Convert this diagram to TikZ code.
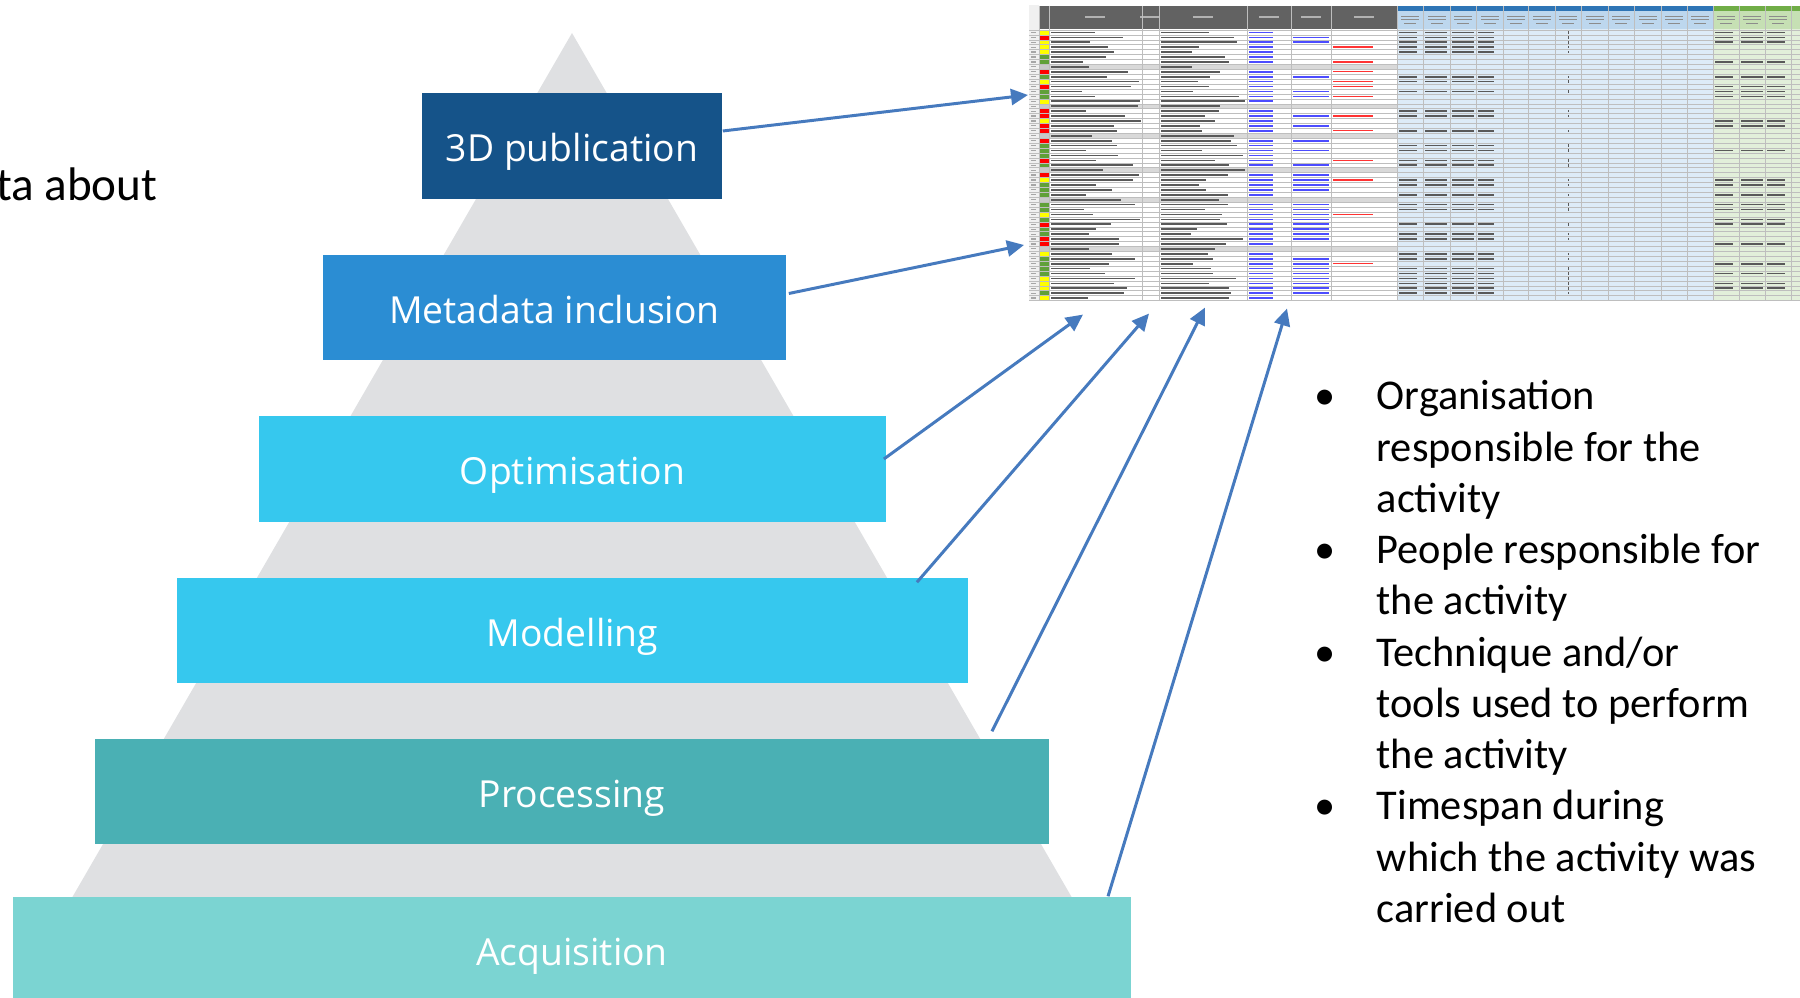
\documentclass[tikz,border=0pt]{standalone}
\usepackage{fontspec}
\setmainfont{Carlito}
\newfontfamily\tierfont{Open Sans}
\usetikzlibrary{arrows.meta, positioning, calc}

\definecolor{pubblue}{RGB}{21,83,137}
\definecolor{metablue}{RGB}{43,141,211}
\definecolor{optcyan}{RGB}{54,200,238}
\definecolor{proctea}{RGB}{74,176,180}
\definecolor{acqtea}{RGB}{123,212,210}
\definecolor{pyrgray}{RGB}{223,224,226}
\definecolor{feedblue}{RGB}{70,122,190}
% spreadsheet colours
\definecolor{sheethead}{RGB}{98,98,98}
\definecolor{acqbar}{RGB}{46,117,182}
\definecolor{acqhead}{RGB}{189,215,238}
\definecolor{acqbody}{RGB}{221,235,247}
\definecolor{procbar}{RGB}{112,173,71}
\definecolor{prochead}{RGB}{198,224,180}
\definecolor{procbody}{RGB}{226,239,218}
\definecolor{gridgray}{RGB}{190,190,190}
\definecolor{stat0}{RGB}{255,255,0}
\definecolor{stat1}{RGB}{255,0,0}
\definecolor{stat2}{RGB}{96,160,56}
\definecolor{stat3}{RGB}{200,200,200}

\begin{document}
\begin{tikzpicture}[x=0.01cm, y=-0.01cm,
  tier/.style={fill=#1, text=white, inner sep=0pt, minimum height=1.05cm,
    text height=1.85ex, text depth=0pt,
    font=\tierfont\fontsize{10.6pt}{12pt}\selectfont},
  feed/.style={draw=feedblue, line width=0.85pt, -{Triangle[length=0.17cm, width=0.16cm]}},
  ink/.style={fill=black!65},
  weblink/.style={fill=blue!70!white},
]
  \useasboundingbox (0,0) rectangle (1800,998);

  % pyramid behind the tiers
  \fill[pyrgray] (572,33) -- (1130,998) -- (14,998) -- cycle;

  % tiers, top to bottom
  \node[tier=pubblue, minimum width=3.00cm] (pub) at (572,146) {3D publication};
  \node[tier=metablue, minimum width=4.63cm] (meta) at (554.5,307.5) {Metadata inclusion};
  \node[tier=optcyan, minimum width=6.27cm] (opt) at (572.5,469) {Optimisation};
  \node[tier=optcyan, minimum width=7.91cm] (model) at (572.5,630.5) {Modelling};
  \node[tier=proctea, minimum width=9.54cm] (proc) at (572,791.5) {Processing};
  \node[tier=acqtea, minimum width=11.18cm] (acq) at (572,949.5) {Acquisition};

  % spreadsheet thumbnail
  \node[inner sep=0pt, minimum width=7.71cm, minimum height=2.96cm, anchor=north west] (sheet) at (1029,5) {};
  \fill[white] (1029,5) rectangle (1800,301);
  \fill[black!6] (1029,5) rectangle (1039,301);
  \fill[sheethead] (1039,6) rectangle (1397,29);
  \fill[acqhead] (1397,6) rectangle (1713,29);
  \fill[acqbar] (1397,6) rectangle (1713,11);
  \fill[prochead] (1713,6) rectangle (1800,29);
  \fill[procbar] (1713,6) rectangle (1800,11);
  \fill[acqbody] (1397,29) rectangle (1713,301);
  \fill[procbody] (1713,29) rectangle (1800,301);
  \foreach \cx in {1095,1150,1203,1269,1311,1364}
    \fill[white!70!black] (\cx-10,16.5) rectangle +(20,1.5);
  \foreach \cx in {1410,1436.5,1463,1489.5,1515.5,1541.5,1568,1594.5,1621,1647.5,1674,1700,1726,1752,1778} {
    \fill[black!45] (\cx-9,16) rectangle +(18,1);
    \fill[black!45] (\cx-9,19.5) rectangle +(18,1);
    \fill[black!45] (\cx-6,23) rectangle +(12,1);
  }

  % separator rows
  \foreach \i in {7,15,21,28,34,44}
    \fill[black!15] (1039,{30+4.92*\i}) rectangle (1397,{30+4.92*(\i+1)});

  % rows: status cell and the scribbled cell text
  \pgfmathsetseed{42}
  \foreach \s [count=\i from 0] in {0,1,0,0,0,2,2,3,1,2,0,1,2,2,0,3,1,1,0,1,1,3,1,2,2,2,1,2,3,1,0,2,2,2,3,2,2,0,2,1,2,2,1,1,3,0,2,2,2,2,0,0,0,2,0} {
    \pgfmathsetmacro{\rowy}{30+4.92*\i}
    \pgfmathsetmacro{\wa}{30+60*rnd}
    \pgfmathsetmacro{\wb}{30+55*rnd}
    \pgfmathtruncatemacro{\hasurl}{rnd>0.4}
    \pgfmathtruncatemacro{\hasacq}{rnd>0.35}
    \pgfmathtruncatemacro{\hasproc}{rnd>0.55}
    \pgfmathtruncatemacro{\hasnote}{rnd>0.8}
    \fill[black!35] (1031,\rowy+1.8) rectangle +(5,1.2);
    \fill[stat\s] (1039,\rowy) rectangle (1049,\rowy+4.92);
    \fill[ink] (1051,\rowy+1.6) rectangle +(\wa,1.7);
    \fill[ink] (1161,\rowy+1.6) rectangle +(\wb,1.7);
    \ifnum\s<3
      \fill[weblink] (1249,\rowy+1.6) rectangle +(24,1.7);
      \ifnum\hasurl=1 \fill[weblink] (1293,\rowy+1.6) rectangle +(36,1.7); \fi
      \ifnum\hasnote=1 \fill[red!80!white] (1333,\rowy+1.6) rectangle +(40,1.5); \fi
      \ifnum\hasacq=1
        \fill[ink] (1399,\rowy+1.6) rectangle +(18,1.7);
        \fill[ink] (1425,\rowy+1.6) rectangle +(22,1.7);
        \fill[ink] (1452,\rowy+1.6) rectangle +(22,1.7);
        \fill[ink] (1478,\rowy+1.6) rectangle +(16,1.7);
        \fill[ink] (1568,\rowy+1.3) rectangle +(1,2.4);
      \fi
      \ifnum\hasproc=1
        \fill[ink] (1715,\rowy+1.6) rectangle +(18,1.7);
        \fill[ink] (1741,\rowy+1.6) rectangle +(22,1.7);
        \fill[ink] (1767,\rowy+1.6) rectangle +(18,1.7);
      \fi
    \fi
  }

  % grid lines
  \foreach \cx in {1039,1049,1142,1159,1247,1291,1331,1397,1423,1450,1476,1503,1528,1555,1581,1608,1634,1661,1687,1713,1739,1765,1791}
    \draw[gridgray, line width=0.15pt] (\cx,6) -- (\cx,301);
  \foreach \i in {0,...,55}
    \draw[gridgray, line width=0.15pt] (1029,{30+4.92*\i}) -- (1800,{30+4.92*\i});

  % arrows from the tiers to the sheet
  \draw[feed] ($(pub.east)+(0,-15)$) -- ($(sheet.north west)+(-1,90)$);
  \draw[feed] ($(meta.east)+(2,-14)$) -- ($(sheet.north west)+(-5,240)$);
  \draw[feed] ($(opt.east)+(-3,-10)$) -- ($(sheet.south west)+(54,12)$);
  \draw[feed] ($(model.north east)+(-52,5)$) -- ($(sheet.south west)+(120,11)$);
  \draw[feed] ($(proc.north east)+(-58,-7)$) -- ($(sheet.south west)+(176,5)$);
  \draw[feed] ($(acq.north east)+(-24,0)$) -- ($(sheet.south west)+(258,6)$);

  % text
  \node[anchor=base east, inner sep=0pt, font=\fontsize{13.4pt}{16pt}\selectfont] (lead) at (158,201) {ta about};
  \node[anchor=base west, inner sep=0pt, font=\fontsize{12.05pt}{14.57pt}\selectfont] (facts) at (1314,410) {%
    \begin{tabular}[t]{@{}p{0.62cm}@{}l@{}}
      \textbullet & Organisation\\
                  & responsible for the\\
                  & activity\\
      \textbullet & People responsible for\\
                  & the activity\\
      \textbullet & Technique and/or\\
                  & tools used to perform\\
                  & the activity\\
      \textbullet & Timespan during\\
                  & which the activity was\\
                  & carried out
    \end{tabular}};
\end{tikzpicture}
\end{document}
